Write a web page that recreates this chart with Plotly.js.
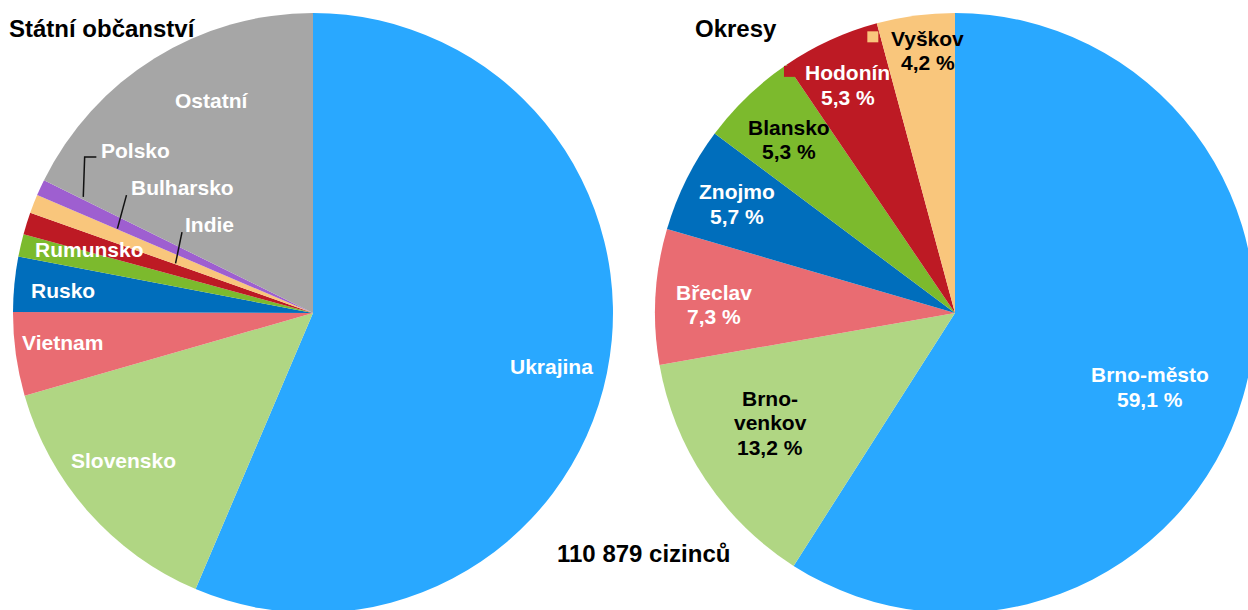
<!DOCTYPE html>
<html>
<head>
<meta charset="utf-8">
<script src="https://cdn.plot.ly/plotly-3.0.1.min.js"></script>
<style>
  html, body { margin: 0; padding: 0; overflow: hidden; background: #fff; }
  #chart { width: 1260px; height: 626px; }
</style>
</head>
<body>
<div id="chart"></div>
<script>
// ---------------- DATA ----------------
const citizenshipLabels = ['Ukrajina', 'Slovensko', 'Vietnam', 'Rusko', 'Rumunsko', 'Indie', 'Bulharsko', 'Polsko', 'Ostatní'];
const citizenshipShares = [56.4, 14.15, 4.5, 2.96, 1.22, 1.19, 1.01, 0.87, 17.7];
const districtLabels = ['Brno-město', 'Brno-venkov', 'Břeclav', 'Znojmo', 'Blansko', 'Hodonín', 'Vyškov'];
const districtShares = [59.1, 13.2, 7.3, 5.7, 5.3, 5.3, 4.2];
const totalForeigners = 110879;
const leftTitle = 'Státní občanství';
const rightTitle = 'Okresy';

// ---------------- STYLE ----------------
const W = 1260, H = 626;
const R = 300;
const leftCenter = [313, 313];
const rightCenter = [955, 313];
const FONT = 'Liberation Sans, Arial, Helvetica, sans-serif';
const LABEL_SIZE = 21;
const LINE_GAP = 24.5;

const citizenshipColors = ['#29A8FF', '#B0D683', '#E96C72', '#006EBC', '#7CBA2D', '#BD1A24', '#F9C67C', '#9E5FD0', '#A6A6A6'];
const districtColors = ['#29A8FF', '#B0D683', '#E96C72', '#006EBC', '#7CBA2D', '#BD1A24', '#F9C67C'];
const districtTextColors = ['#ffffff', '#000000', '#ffffff', '#ffffff', '#000000', '#ffffff', '#000000'];

// label placement (radius fraction, angle shift in degrees from slice middle)
const leftLabelR = [0.816, 0.80, 0.84, 0.836, 0.773, 0.452, 0.605, 0.802, 0.786];
const leftLabelShift = [1, 3.6, 1.3, -0.3, 2.8, 23.2, 22.6, 17.8, 6.4];
// leader lines: [radius fraction of end, angle shift of end, start dx, start dy, elbow?]
const leftLeaders = [null, null, null, null, null,
  [0.487, 2.45, -28, 7.3, false],
  [0.71, 2.0, -55.8, 8, false],
  [0.858, 2.1, -39.3, 6.7, true],
  null];
const rightLabelR = [0.695, 0.717, 0.804, 0.812, 0.80, 0.84, 0.88];
const rightLabelShift = [4.5, 3.0, -1.1, 0, 0, -0.5, 1.6];
const rightWrapAfterHyphen = [false, true, false, false, false, false, false];
// legend-key square offsets from label centre (px)
const rightKeys = [null, null, null, null, null, [-58.5, -13.5], [-54.8, -13.6]];

// ---------------- HELPERS ----------------
const px = x => x / W;
const py = y => 1 - y / H;
function polar(c, theta, rf) {
  const t = theta * Math.PI / 180;
  return [c[0] + rf * R * Math.sin(t), c[1] - rf * R * Math.cos(t)];
}
function midAngles(vals) {
  const tot = vals.reduce((a, b) => a + b, 0);
  let acc = 0;
  return vals.map(v => { const m = (acc + v / 2) / tot * 360; acc += v; return m; });
}
function fmtPct(v) { return v.toFixed(1).replace('.', ',') + ' %'; }
function fmtThousands(n) { return String(n).replace(/\B(?=(\d{3})+(?!\d))/g, ' '); }

const annotations = [];
const shapes = [];
function addLines(lines, cx, cy, color, size) {
  lines.forEach((ln, i) => {
    annotations.push({
      xref: 'paper', yref: 'paper', x: px(cx), y: py(cy + (i - (lines.length - 1) / 2) * LINE_GAP),
      xanchor: 'center', yanchor: 'middle', showarrow: false, text: ln,
      font: { family: FONT, size: size, color: color, weight: 'bold' }
    });
  });
}

// left pie labels
const leftMids = midAngles(citizenshipShares);
citizenshipLabels.forEach((lab, i) => {
  const p = polar(leftCenter, leftMids[i] + leftLabelShift[i], leftLabelR[i]);
  addLines(['<b>' + lab + '</b>'], p[0], p[1], '#ffffff', LABEL_SIZE);
  const L = leftLeaders[i];
  if (L) {
    const e = polar(leftCenter, leftMids[i] + L[1], L[0]);
    const s = [p[0] + L[2], p[1] + L[3]];
    let path;
    if (L[4]) {
      const elbow = [s[0] - 11.7, s[1]];
      path = `M ${px(s[0])} ${py(s[1])} L ${px(elbow[0])} ${py(elbow[1])} L ${px(e[0])} ${py(e[1])}`;
    } else {
      path = `M ${px(s[0])} ${py(s[1])} L ${px(e[0])} ${py(e[1])}`;
    }
    shapes.push({ type: 'path', xref: 'paper', yref: 'paper', path: path, line: { color: '#111111', width: 1.5 } });
  }
});

// right pie labels
const rightMids = midAngles(districtShares);
districtLabels.forEach((lab, i) => {
  const p = polar(rightCenter, rightMids[i] + rightLabelShift[i], rightLabelR[i]);
  let nameLines = rightWrapAfterHyphen[i] ? lab.replace('-', '-\n').split('\n') : [lab];
  const lines = nameLines.concat([fmtPct(districtShares[i])]).map(s => '<b>' + s + '</b>');
  const k = rightKeys[i];
  if (k) {
    const kx = p[0] + k[0], ky = p[1] + k[1];
    shapes.push({ type: 'rect', xref: 'paper', yref: 'paper',
      x0: px(kx - 5.5), x1: px(kx + 5.5), y0: py(ky + 5.5), y1: py(ky - 5.5),
      fillcolor: districtColors[i], line: { width: 0 } });
  }
  addLines(lines, p[0], p[1], districtTextColors[i], LABEL_SIZE);
});

// titles
annotations.push({ xref: 'paper', yref: 'paper', x: px(7), y: py(28), xanchor: 'left', yanchor: 'middle', showarrow: false,
  text: '<b>' + leftTitle + '</b>', font: { family: FONT, size: 24, color: '#000' } });
annotations.push({ xref: 'paper', yref: 'paper', x: px(693), y: py(28), xanchor: 'left', yanchor: 'middle', showarrow: false,
  text: '<b>' + rightTitle + '</b>', font: { family: FONT, size: 24, color: '#000' } });
annotations.push({ xref: 'paper', yref: 'paper', x: px(643.5), y: py(553), xanchor: 'center', yanchor: 'middle', showarrow: false,
  text: '<b>' + fmtThousands(totalForeigners) + ' cizinců</b>', font: { family: FONT, size: 24, color: '#000' } });

const common = {
  type: 'pie', sort: false, direction: 'clockwise', rotation: 0,
  textinfo: 'none', hoverinfo: 'label+percent', showlegend: false
};
const traces = [
  Object.assign({}, common, {
    labels: citizenshipLabels, values: citizenshipShares,
    marker: { colors: citizenshipColors, line: { width: 0 } },
    domain: { x: [px(leftCenter[0] - R), px(leftCenter[0] + R)], y: [py(leftCenter[1] + R), py(leftCenter[1] - R)] }
  }),
  Object.assign({}, common, {
    labels: districtLabels, values: districtShares,
    marker: { colors: districtColors, line: { width: 0 } },
    domain: { x: [px(rightCenter[0] - R), px(rightCenter[0] + R)], y: [py(rightCenter[1] + R), py(rightCenter[1] - R)] }
  })
];

Plotly.newPlot('chart', traces, {
  width: W, height: H,
  margin: { l: 0, r: 0, t: 0, b: 0 },
  paper_bgcolor: '#ffffff',
  font: { family: FONT },
  annotations: annotations,
  shapes: shapes
}, { displayModeBar: false, staticPlot: false });
</script>
</body>
</html>
